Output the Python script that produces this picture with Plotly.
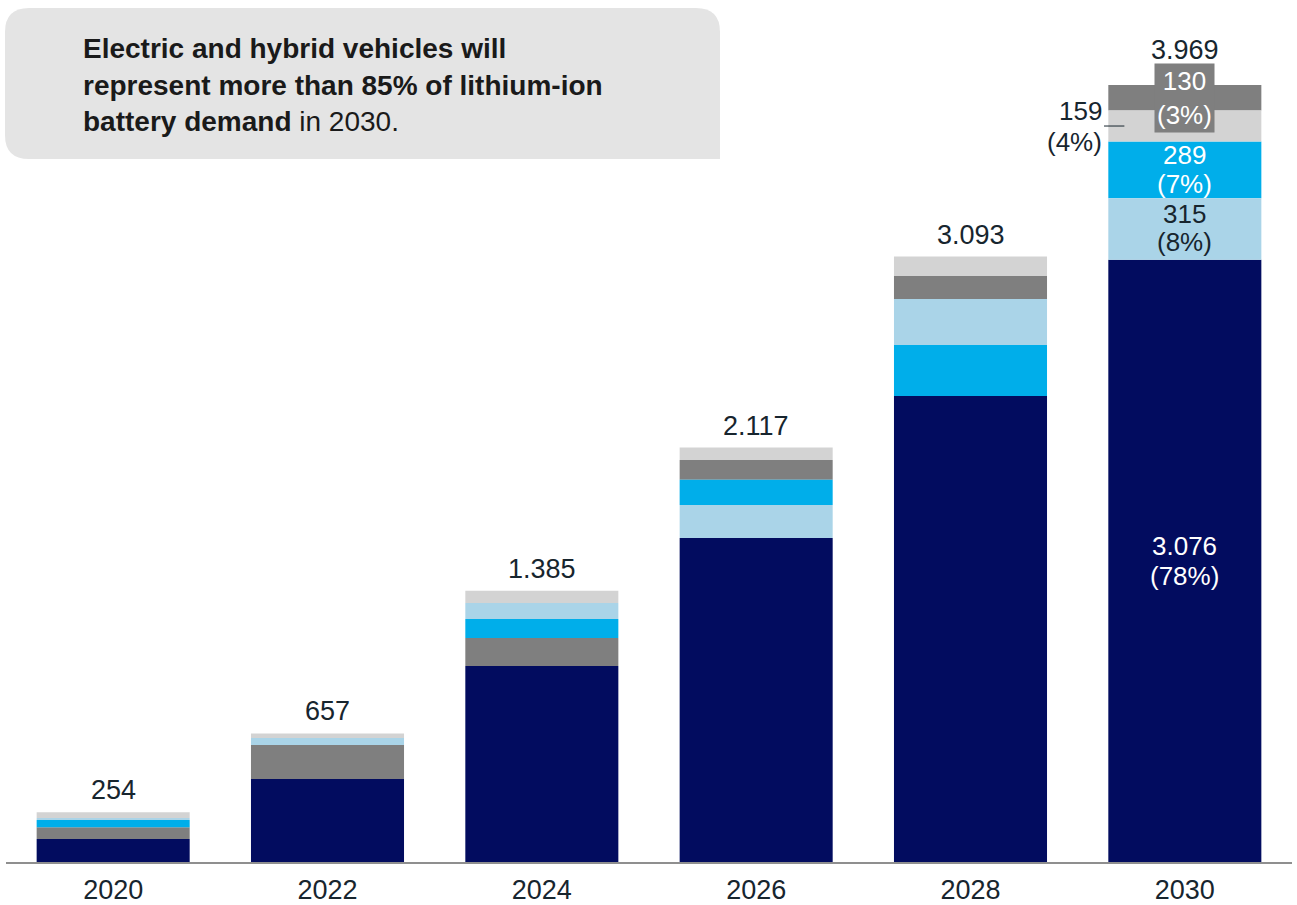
import plotly.graph_objects as go

# Lithium-ion battery demand by year (stacked segments)
years = ["2020", "2022", "2024", "2026", "2028", "2030"]
totals = [254, 657, 1385, 2117, 3093, 3969]

navy_vals = [117, 424, 1001, 1655, 2380, 3076]
grey_vals = [61, 174, 143, 102, 117, 130]
cyan_vals = [36, 0, 97, 128, 261, 289]
lightblue_vals = [11, 36, 82, 169, 235, 315]
lightgrey_vals = [29, 23, 62, 63, 100, 159]

segments = {
    "navy": (navy_vals, "#020c5f"),
    "grey": (grey_vals, "#7f7f7f"),
    "cyan": (cyan_vals, "#00aeea"),
    "lightblue": (lightblue_vals, "#aad4e8"),
    "lightgrey": (lightgrey_vals, "#d3d3d3"),
}

# bottom-to-top order of the segments within each bar
stack_order = {
    "2020": ["navy", "grey", "cyan", "lightblue", "lightgrey"],
    "2022": ["navy", "grey", "cyan", "lightblue", "lightgrey"],
    "2024": ["navy", "grey", "cyan", "lightblue", "lightgrey"],
    "2026": ["navy", "lightblue", "cyan", "grey", "lightgrey"],
    "2028": ["navy", "cyan", "lightblue", "grey", "lightgrey"],
    "2030": ["navy", "lightblue", "cyan", "lightgrey", "grey"],
}

W, H = 1297, 905
ML, MR, MT, MB = 6, 5, 30, 43
Y_MAX = 4250
BAR_W = 0.714
FONT = "Liberation Sans, Arial, sans-serif"
DARK = "#17252e"
NUM_SIZE = 27
SEG_SIZE = 26

plot_w = W - ML - MR
plot_h = H - MT - MB


def px_x(px):
    return (px - ML) / plot_w


def px_y(py):
    return (H - MB - py) / plot_h


# base of every segment, following each year's stacking order
bases = {k: [] for k in segments}
for i, yr in enumerate(years):
    acc = 0
    for key in stack_order[yr]:
        bases[key].append(acc)
        acc += segments[key][0][i]

fig = go.Figure()
for key, (vals, color) in segments.items():
    fig.add_trace(go.Bar(
        x=list(range(len(years))), y=vals, base=bases[key], name=key,
        marker=dict(color=color, line=dict(width=0)),
        width=BAR_W, showlegend=False, hoverinfo="skip",
    ))


def fmt(v):
    return f"{v:,}".replace(",", ".")


annotations = []


def data_label(xi, y, text, color, size=NUM_SIZE, **kw):
    d = dict(xref="x", yref="y", x=xi, y=y, text=text, showarrow=False,
             font=dict(family=FONT, size=size, color=color))
    d.update(kw)
    annotations.append(d)


# totals above the bars
last = len(years) - 1
for i in range(len(years)):
    shift = 22 if i != last else 35
    data_label(i, totals[i], fmt(totals[i]), DARK, yanchor="middle", yshift=shift)

# segment breakdown for the final year
tot = totals[last]


def seg_parts(key):
    v = segments[key][0][last]
    return fmt(v), f"({round(v / tot * 100)}%)", bases[key][last] + v / 2


def two_line(key, color, up, down, **kw):
    a, b, yc = seg_parts(key)
    data_label(last, yc, a, color, size=SEG_SIZE, yshift=up, **kw)
    data_label(last, yc, b, color, size=SEG_SIZE, yshift=-down, **kw)
    return yc


two_line("navy", "white", 15, 15)
two_line("lightblue", DARK, 15, 13)
two_line("cyan", "white", 15, 14)

a, b, yc = seg_parts("grey")
data_label(last, yc, f"{a}<br>{b}", "white", size=SEG_SIZE,
           bgcolor="#7f7f7f", borderpad=2)

yc_lg = two_line("lightgrey", DARK, 15, 16, xanchor="right",
                 xshift=-(BAR_W / 2 * plot_w / len(years)) - 4)

# headline
title_lines = [
    ("<b>Electric and hybrid vehicles will</b>", 49),
    ("<b>represent more than 85% of lithium-ion</b>", 85),
    ("<b>battery demand</b> in 2030.", 121),
]
for text, py in title_lines:
    annotations.append(dict(
        xref="paper", yref="paper", x=px_x(81), y=px_y(py), text=text,
        showarrow=False, xanchor="left", yanchor="middle",
        font=dict(family=FONT, size=28, color="#1a1a1a"),
    ))

# rounded headline panel
x0, x1, y0, y1, r = 5, 720, 8, 159, 24
rx, ry = r / plot_w, r / plot_h
X0, X1, Y0, Y1 = px_x(x0), px_x(x1), px_y(y0), px_y(y1)
panel = (
    f"M {X0 + rx},{Y0} L {X1 - rx},{Y0} Q {X1},{Y0} {X1},{Y0 - ry} "
    f"L {X1},{Y1} L {X0 + rx},{Y1} Q {X0},{Y1} {X0},{Y1 + ry} "
    f"L {X0},{Y0 - ry} Q {X0},{Y0} {X0 + rx},{Y0} Z"
)
shapes = [dict(type="path", xref="paper", yref="paper", path=panel,
               fillcolor="#e4e4e4", line=dict(width=0), layer="below")]

# leader line for the final-year light grey segment
left_edge = last - BAR_W / 2
shapes.append(dict(type="line", xref="x", yref="y",
                   x0=left_edge - 0.02, x1=left_edge + 0.075,
                   y0=yc_lg, y1=yc_lg,
                   line=dict(color=DARK, width=1)))

fig.update_layout(
    width=W, height=H,
    margin=dict(l=ML, r=MR, t=MT, b=MB, autoexpand=False),
    barmode="overlay",
    plot_bgcolor="white", paper_bgcolor="white",
    annotations=annotations, shapes=shapes,
    xaxis=dict(
        range=[-0.5, len(years) - 0.5],
        tickmode="array", tickvals=list(range(len(years))), ticktext=years,
        showline=True, linecolor="#8f8f8f", linewidth=2,
        ticks="", ticklabelstandoff=3, automargin=False,
        tickfont=dict(family=FONT, size=NUM_SIZE, color=DARK),
        showgrid=False, zeroline=False, fixedrange=True,
    ),
    yaxis=dict(range=[0, Y_MAX], showticklabels=False, showline=False,
               ticks="", showgrid=False, zeroline=False, fixedrange=True,
               automargin=False),
)

fig.write_html("out.html")
